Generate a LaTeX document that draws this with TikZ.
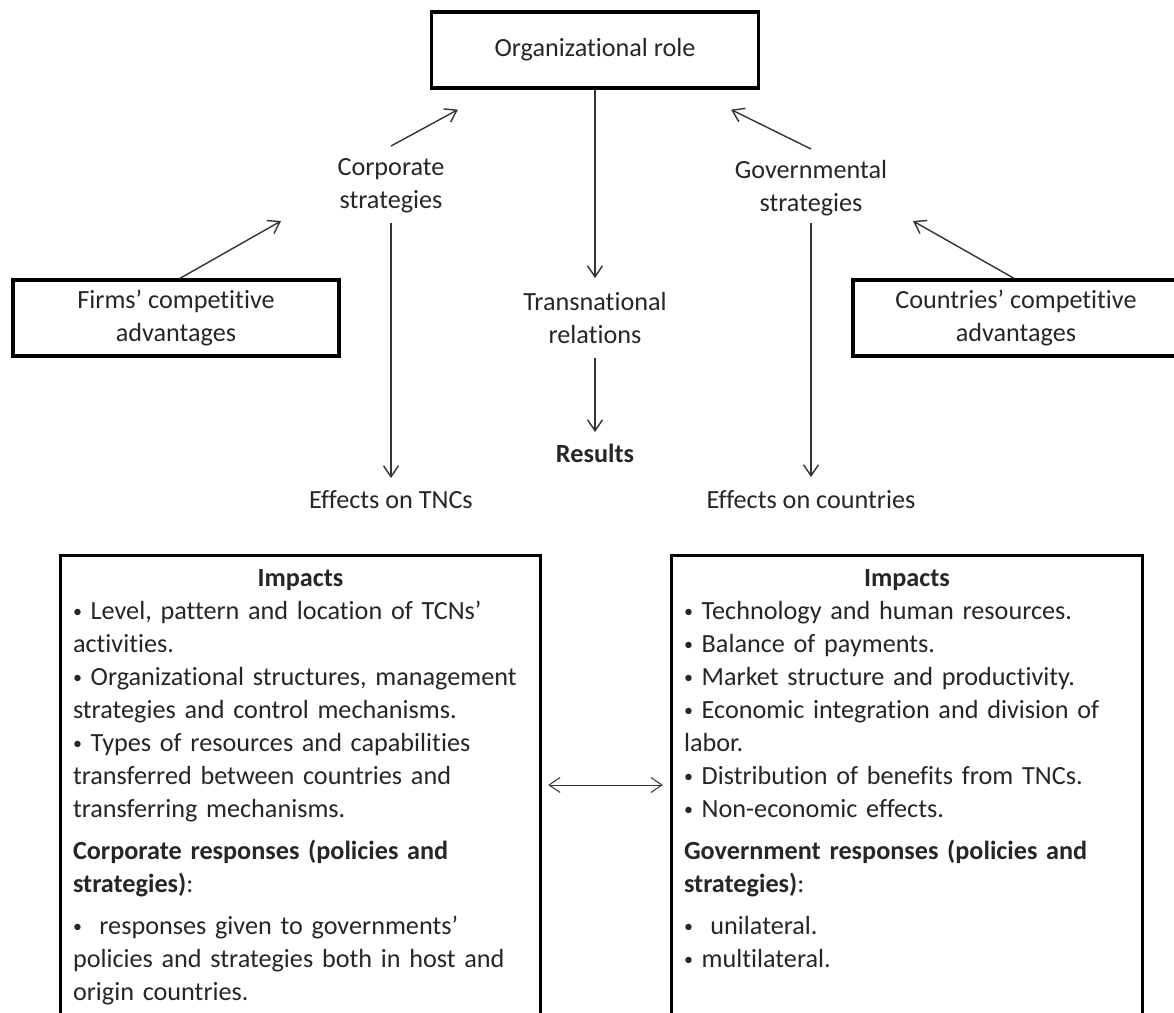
\documentclass[tikz,border=0pt]{standalone}
\usepackage{fontspec}
\setmainfont{Carlito}[Ligatures=NoCommon,Contextuals=NoAlternate]
\usetikzlibrary{arrows.meta}
\setlength{\parindent}{0pt}
\newcommand{\vineta}{\raisebox{2pt}{\fontsize{18}{33}\selectfont•}}

\begin{document}
\begin{tikzpicture}[x=1pt,y=-1pt,
  >={Straight Barb[length=11pt,width=15pt]},
  every node/.style={font=\fontsize{26.2}{33}\selectfont,text=black!85},
  caja/.style={draw,line width=3.3pt,minimum width=327pt,minimum height=76pt,align=center},
  texto/.style={align=center,inner sep=0pt},
  impacto/.style={anchor=north,inner xsep=12pt,inner ysep=14pt},
  marco/.style={draw,line width=3pt},
  flecha/.style={draw=black!80,line width=1.4pt,->}]

% area visible (las cajas de abajo quedan cortadas)
\path[use as bounding box,clip] (0,0) rectangle (1174,1012);
\fill[white] (0,0) rectangle (1174,1012);

% --- rol organizacional ---
\node[caja] (org) at (595,50) {Organizational role};

% estrategias de empresas y gobiernos
\node[texto] (corp) at (391,186) {Corporate\\strategies};
\node[texto] (gov) at (811,188) {Governmental\\strategies};

% ventajas competitivas
\node[caja,minimum width=326pt] (firms) at (176,318) {Firms’ competitive\\advantages};
\node[caja,minimum width=326pt] (countries) at (1016,318) {Countries’ competitive\\advantages};

% relaciones transnacionales y resultados
\node[texto] (trans) at (595,318) {Transnational\\relations};
\node[texto,font=\fontsize{26.2}{33}\selectfont\bfseries] (results) at (595,453) {Results};
\node[texto] (tnc) at (391,500) {Effects on TNCs};
\node[texto] (ctry) at (811,500) {Effects on countries};

% flechas hacia el rol organizacional
\draw[flecha] ([yshift=40pt]corp.center) -- ([xshift=28pt,yshift=-20pt]org.south west);
\draw[flecha] ([xshift=4pt]firms.north) -- ([xshift=-110pt,yshift=-35pt]corp.center);
\draw[flecha] ([yshift=39pt]gov.center) -- ([xshift=-29pt,yshift=-20pt]org.south east);
\draw[flecha] ([xshift=-2pt]countries.north) -- ([xshift=102pt,yshift=-33pt]gov.center);

% flechas hacia abajo
\draw[flecha] (org.south) -- ([yshift=40pt]trans.center);
\draw[flecha] ([yshift=-40pt]trans.center) -- ([yshift=21pt]results.center);
\draw[flecha] ([yshift=-37pt]corp.center) -- ([yshift=22pt]tnc.center);
\draw[flecha] ([yshift=-35pt]gov.center) -- ([yshift=23pt]ctry.center);

% --- impactos sobre las empresas ---
\node[impacto,text width=455pt] (impL) at (300.5,555) {%
  \centering\textbf{Impacts}\par
  \raggedright
  \vineta\ Level, pattern and location of TCNs’\\
  activities.\\
  \vineta\ Organizational structures, management\\
  strategies and control mechanisms.\\
  \vineta\ Types of resources and capabilities\\
  transferred between countries and\\
  transferring mechanisms.\par\vspace{9pt}
  \textbf{Corporate responses (policies and}\\
  \textbf{strategies)}:\par\vspace{9pt}
  \vineta\ \ responses given to governments’\\
  policies and strategies both in host and\\
  origin countries.\par};
\draw[marco] (impL.north west |- 0,1030) -- (impL.north west) -- (impL.north east) -- (impL.north east |- 0,1030);

% --- impactos sobre los paises ---
\node[impacto,text width=446pt] (impR) at (907,555) {%
  \centering\textbf{Impacts}\par
  \raggedright
  \vineta\ Technology and human resources.\\
  \vineta\ Balance of payments.\\
  \vineta\ Market structure and productivity.\\
  \vineta\ Economic integration and division of\\
  labor.\\
  \vineta\ Distribution of benefits from TNCs.\\
  \vineta\ Non-economic effects.\par\vspace{9pt}
  \textbf{Government responses (policies and}\\
  \textbf{strategies)}:\par\vspace{9pt}
  \vineta\ \ unilateral.\\
  \vineta\ multilateral.\par};
\draw[marco] (impR.north west |- 0,1030) -- (impR.north west) -- (impR.north east) -- (impR.north east |- 0,1030);

% relacion entre ambos
\draw[flecha,<->,line width=1pt] ([xshift=8pt,yshift=-230pt]impL.north east) -- ([xshift=-9pt,yshift=-230pt]impR.north west);

\end{tikzpicture}
\end{document}
